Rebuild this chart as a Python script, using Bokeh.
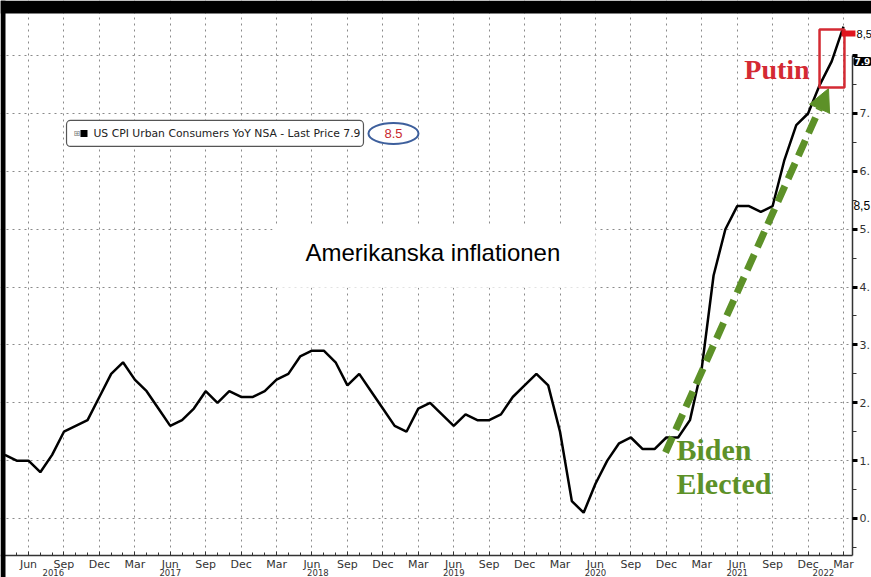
from bokeh.plotting import figure
from bokeh.models import (Range1d, FixedTicker, BoxAnnotation, Label, Arrow, NormalHead)
from bokeh.embed import file_html
from bokeh.resources import INLINE

# ---------------- data ----------------
# x = months since Jan 2016 (3 = Apr 2016 ... 74 = Mar 2022)
month_index = list(range(3, 75))
cpi_yoy = [
    1.1, 1.0, 1.0, 0.8, 1.1, 1.5, 1.6, 1.7, 2.1,                   # 2016 Apr-Dec
    2.5, 2.7, 2.4, 2.2, 1.9, 1.6, 1.7, 1.9, 2.2, 2.0, 2.2, 2.1,     # 2017
    2.1, 2.2, 2.4, 2.5, 2.8, 2.9, 2.9, 2.7, 2.3, 2.5, 2.2, 1.9,     # 2018
    1.6, 1.5, 1.9, 2.0, 1.8, 1.6, 1.8, 1.7, 1.7, 1.8, 2.1, 2.3,     # 2019
    2.5, 2.3, 1.5, 0.3, 0.1, 0.6, 1.0, 1.3, 1.4, 1.2, 1.2, 1.4,     # 2020
    1.4, 1.7, 2.6, 4.2, 5.0, 5.4, 5.4, 5.3, 5.4, 6.2, 6.8, 7.0,     # 2021
    7.5, 7.9, 8.5,                                                  # 2022 Jan-Mar
]
x_tick_pos = list(range(5, 75, 3))                   # Jun 2016 ... Mar 2022
x_tick_labels = ["Jun", "Sep", "Dec", "Mar"] * 6
x_minor_pos = list(range(3, 75))
year_labels = ["2016", "2017", "2018", "2019", "2020", "2021", "2022"]
year_label_pos = [7.1, 17.0, 29.5, 41.0, 53.0, 65.0, 72.3]
y_ticks = [0, 1, 2, 3, 4, 5, 6, 7, 8]
y_tick_labels = ["0.", "1.", "2.", "3.", "4.", "5.", "6.", "7.", ""]
y_minor = [v + 0.5 for v in range(-1, 8)]
last_price = 7.9
new_price = 8.5
legend_text = "US CPI Urban Consumers YoY NSA - Last Price 7.9"

# ---------------- figure (frame = whole canvas, axes at fixed locations) ----------------
X0, X1 = 2.630, 76.37          # canvas x 0 .. 871
Y0, Y1 = -1.020, 8.953         # canvas y 577 .. 0
X_AXIS_AT = -0.639             # bottom axis line
Y_AXIS_AT = 74.76              # right axis line

p = figure(width=871, height=577, output_backend="svg",
           toolbar_location=None, y_axis_location="right",
           x_range=Range1d(X0, X1), y_range=Range1d(Y0, Y1),
           min_border_left=0, min_border_top=0, min_border_right=0,
           min_border_bottom=0)
p.outline_line_color = None
p.background_fill_color = "white"
p.border_fill_color = "white"

GRID = "#8a8a8a"
AXC = "#333333"
p.xgrid.grid_line_color = GRID
p.xgrid.grid_line_dash = "2 4"
p.ygrid.grid_line_color = GRID
p.ygrid.grid_line_dash = "2 4"

xa = p.xaxis[0]
xa.fixed_location = X_AXIS_AT
xa.bounds = (X0, Y_AXIS_AT)
xa.ticker = FixedTicker(ticks=x_tick_pos, minor_ticks=x_minor_pos)
xa.major_label_overrides = {pos: lab for pos, lab in zip(x_tick_pos, x_tick_labels)}
xa.axis_line_color = AXC
xa.axis_line_width = 1.5
xa.major_tick_in = 4
xa.major_tick_out = 0
xa.minor_tick_in = 3
xa.minor_tick_out = 0
xa.major_tick_line_color = AXC
xa.minor_tick_line_color = AXC
xa.major_label_standoff = 3
xa.major_label_text_font = "DejaVu Sans"
xa.major_label_text_font_size = "11px"
xa.major_label_text_color = "#333333"

ya = p.yaxis[0]
ya.fixed_location = Y_AXIS_AT
ya.bounds = (X_AXIS_AT, 8.0)
ya.ticker = FixedTicker(ticks=y_ticks, minor_ticks=y_minor)
ya.major_label_overrides = {t: lab for t, lab in zip(y_ticks, y_tick_labels)}
ya.axis_line_color = AXC
ya.axis_line_width = 1.5
ya.major_tick_in = 0
ya.major_tick_out = 5
ya.major_tick_line_width = 3
ya.major_tick_line_color = "black"
ya.minor_tick_in = 0
ya.minor_tick_out = 4
ya.minor_tick_line_color = AXC
ya.major_label_standoff = 2
ya.major_label_text_font = "DejaVu Sans"
ya.major_label_text_font_size = "11px"
ya.major_label_text_color = "#333333"

# keep the dotted grid inside the axes
p.add_layout(BoxAnnotation(left=X0, right=X1, bottom=Y0, top=X_AXIS_AT, level="underlay",
                           fill_color="white", fill_alpha=1, line_color=None))
p.add_layout(BoxAnnotation(left=Y_AXIS_AT, right=X1, bottom=Y0, top=Y1, level="underlay",
                           fill_color="white", fill_alpha=1, line_color=None))

# data line
p.line(month_index, cpi_yoy, line_color="black", line_width=2.5)

# black frame band (top) and strip (left)
p.add_layout(BoxAnnotation(left=X0, right=X1, bottom=8.728, top=Y1,
                           fill_color="black", fill_alpha=1, line_color=None))
p.add_layout(BoxAnnotation(left=X0, right=3.053, bottom=Y0, top=Y1,
                           fill_color="black", fill_alpha=1, line_color=None))

# legend box
p.add_layout(BoxAnnotation(left=8.22, right=33.36, bottom=6.43, top=6.88,
                           fill_color="white", fill_alpha=1,
                           line_color="#555555", line_alpha=1, line_width=1.2,
                           border_radius=4))
p.add_layout(Label(x=8.8, y=6.654, text="⊞", text_baseline="middle",
                   text_font="DejaVu Sans", text_font_size="8px",
                   text_color="#777777"))
p.add_layout(BoxAnnotation(left=9.40, right=9.995, bottom=6.594, top=6.714,
                           fill_color="black", fill_alpha=1, line_color=None))
p.add_layout(Label(x=10.5, y=6.654, text=legend_text, text_baseline="middle",
                   text_font="DejaVu Sans", text_font_size="10.8px",
                   text_color="#222222"))
p.ellipse(x=[35.9], y=[6.654], width=50, height=21, width_units="screen",
          height_units="screen", fill_color="white", line_color="#3d5f9c",
          line_width=2)
p.add_layout(Label(x=35.9, y=6.654, text=f"{new_price}", text_align="center",
                   text_baseline="middle", text_font="Liberation Sans",
                   text_font_size="13px", text_color="#c8282e"))

# title box
p.add_layout(BoxAnnotation(left=25.66, right=53.0, bottom=3.99, top=5.06,
                           fill_color="white", fill_alpha=1, line_color=None))
p.add_layout(Label(x=28.45, y=4.589, text="Amerikanska inflationen",
                   text_baseline="middle", text_font="Liberation Sans",
                   text_font_size="24px", text_color="black"))

# green arrow and Biden text
GREEN = "#5d9128"
p.add_layout(Arrow(end=NormalHead(size=22, fill_color=GREEN, line_color=GREEN),
                   x_start=58.93, y_start=1.14, x_end=72.73, y_end=7.43,
                   line_color=GREEN, line_width=7, line_dash="17 8"))
p.add_layout(Label(x=59.86, y=1.201, text="Biden", text_baseline="middle",
                   text_font="Liberation Serif", text_font_size="30px",
                   text_font_style="bold", text_color=GREEN))
p.add_layout(Label(x=59.86, y=0.613, text="Elected", text_baseline="middle",
                   text_font="Liberation Serif", text_font_size="30px",
                   text_font_style="bold", text_color=GREEN))

# Putin box and text
RED = "#d42a33"
p.add_layout(BoxAnnotation(left=71.97, right=74.08, bottom=7.45, top=8.45,
                           fill_alpha=0, line_color=RED, line_alpha=1,
                           line_width=2.5))
p.add_layout(Label(x=65.60, y=7.769, text="Putin", text_baseline="middle",
                   text_font="Liberation Serif", text_font_size="28px",
                   text_font_style="bold", text_color=RED))

# right-side price markers
p.add_layout(BoxAnnotation(left=73.83, right=75.01, bottom=8.33, top=8.433,
                           fill_color="#e0141e", fill_alpha=1, line_color=None))
p.add_layout(Label(x=75.11, y=8.38, text="8,5", text_baseline="middle",
                   text_font="Liberation Sans", text_font_size="11px",
                   text_color="black"))
p.add_layout(Label(x=74.84, y=last_price, text=f"{last_price}", text_baseline="middle",
                   text_font="DejaVu Sans", text_font_size="9px",
                   text_font_style="bold", text_color="white",
                   background_fill_color="black", background_fill_alpha=1,
                   padding=1, border_radius=2))
p.add_layout(Label(x=74.84, y=5.41, text="8,5", text_baseline="middle",
                   text_font="Liberation Sans", text_font_size="12px",
                   text_color="black"))

# year labels under the month labels
for yl, yx in zip(year_labels, year_label_pos):
    p.add_layout(Label(x=yx, y=-0.925, text=yl, text_align="center",
                       text_baseline="middle", text_font="DejaVu Sans",
                       text_font_size="8.5px", text_color="#333333"))

open("out.html", "w").write(file_html(p, INLINE))
